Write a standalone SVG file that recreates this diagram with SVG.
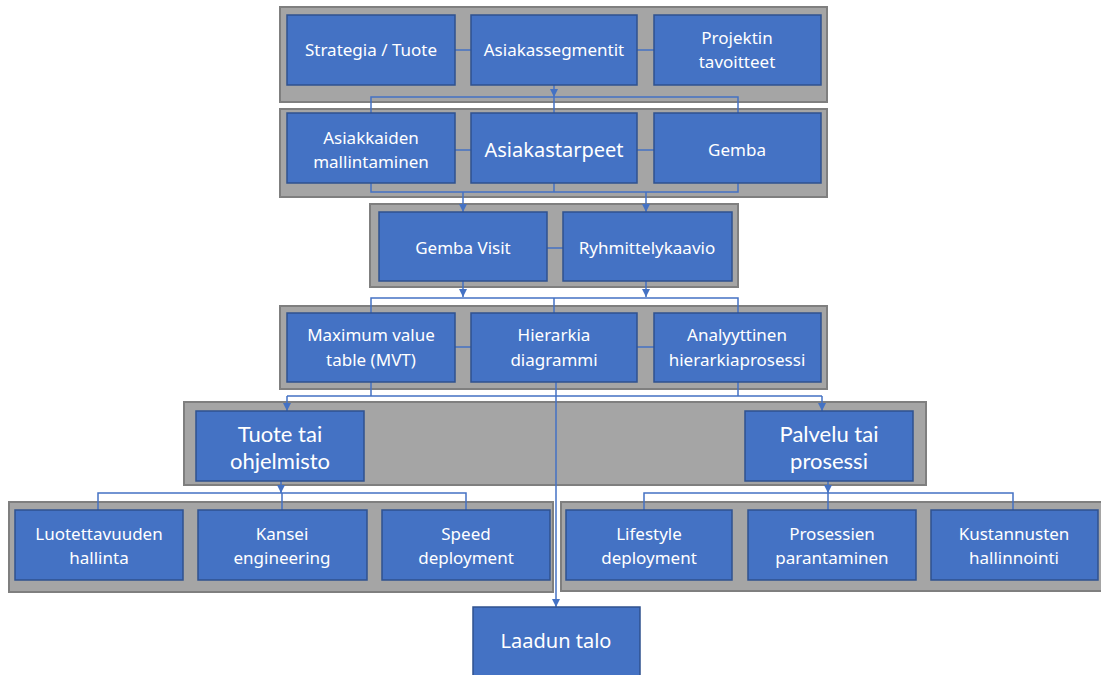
<svg xmlns="http://www.w3.org/2000/svg" width="1101" height="675" viewBox="0 0 1101 675">
  <style>
    .panel { fill: #a5a5a5; stroke: #7f7f7f; stroke-width: 2; }
    .box { fill: #4472c4; stroke: #2f528f; stroke-width: 1.5; }
    .lbl { fill: #ffffff; font-family: "Noto Sans", "Open Sans", sans-serif; font-size: 17px; text-anchor: middle; }
    .big { font-size: 20px; }
    .tall { font-family: Lato, "Liberation Sans", sans-serif; font-size: 22px; }
    .conn { fill: none; stroke: #4472c4; stroke-width: 1.5; }
  </style>
  <defs>
    <marker id="arrow" viewBox="0 0 8 8" refX="8" refY="4" markerWidth="8" markerHeight="8" markerUnits="userSpaceOnUse" orient="auto">
      <path d="M0,0 L8,4 L0,8 Z" fill="#4472c4"/>
    </marker>
  </defs>

  <rect width="1101" height="675" fill="#ffffff"/>

  <!-- background panels -->
  <g id="panels">
    <rect class="panel" x="280" y="7" width="547" height="95"/>
    <rect class="panel" x="280" y="109" width="547" height="88"/>
    <rect class="panel" x="370" y="204" width="368" height="83"/>
    <rect class="panel" x="280" y="306" width="547" height="83"/>
    <rect class="panel" x="184" y="402" width="742" height="83"/>
    <rect class="panel" x="9" y="502" width="544" height="90"/>
    <rect class="panel" x="561" y="502" width="541" height="89"/>
  </g>

  <!-- connectors -->
  <g id="connectors">
    <path class="conn" d="M455,50 H471 M637,50 H654"/>
    <path class="conn" d="M554,85 V97" marker-end="url(#arrow)"/>
    <path class="conn" d="M371,113 V97 H738 V113 M554,97 V113"/>

    <path class="conn" d="M455,150 H471 M637,150 H654"/>
    <path class="conn" d="M371,183 V192 H738 V183 M554,183 V192"/>
    <path class="conn" d="M463,192 V212" marker-end="url(#arrow)"/>
    <path class="conn" d="M646,192 V212" marker-end="url(#arrow)"/>

    <path class="conn" d="M547,248 H563"/>
    <path class="conn" d="M463,281 V297" marker-end="url(#arrow)"/>
    <path class="conn" d="M646,281 V297" marker-end="url(#arrow)"/>
    <path class="conn" d="M371,313 V298 H738 V313 M554,298 V313"/>

    <path class="conn" d="M455,347 H471 M637,347 H654"/>
    <path class="conn" d="M371,382 V396 M738,382 V396 M287,396 H822"/>
    <path class="conn" d="M287,396 V411" marker-end="url(#arrow)"/>
    <path class="conn" d="M822,396 V411" marker-end="url(#arrow)"/>
    <path class="conn" d="M556,382 V607" marker-end="url(#arrow)"/>

    <path class="conn" d="M281,481 V493" marker-end="url(#arrow)"/>
    <path class="conn" d="M98,510 V493 H466 V510 M282,493 V510"/>
    <path class="conn" d="M828,481 V493" marker-end="url(#arrow)"/>
    <path class="conn" d="M644,510 V493 H1013 V510 M828,493 V510"/>
  </g>

  <!-- row 1 -->
  <g id="strategia">
    <rect class="box" x="287" y="15" width="168" height="70"/>
    <text class="lbl" x="371" y="56">Strategia / Tuote</text>
  </g>
  <g id="asiakassegmentit">
    <rect class="box" x="471" y="15" width="166" height="70"/>
    <text class="lbl" x="554" y="56">Asiakassegmentit</text>
  </g>
  <g id="projektin-tavoitteet">
    <rect class="box" x="654" y="15" width="167" height="70"/>
    <text class="lbl" x="737" y="44">Projektin</text>
    <text class="lbl" x="737" y="68">tavoitteet</text>
  </g>

  <!-- row 2 -->
  <g id="asiakkaiden-mallintaminen">
    <rect class="box" x="287" y="113" width="168" height="70"/>
    <text class="lbl" x="371" y="144">Asiakkaiden</text>
    <text class="lbl" x="371" y="168">mallintaminen</text>
  </g>
  <g id="asiakastarpeet">
    <rect class="box" x="471" y="113" width="166" height="70"/>
    <text class="lbl big" x="554" y="157">Asiakastarpeet</text>
  </g>
  <g id="gemba">
    <rect class="box" x="654" y="113" width="167" height="70"/>
    <text class="lbl" x="737" y="156">Gemba</text>
  </g>

  <!-- row 3 -->
  <g id="gemba-visit">
    <rect class="box" x="379" y="212" width="168" height="69"/>
    <text class="lbl" x="463" y="254">Gemba Visit</text>
  </g>
  <g id="ryhmittelykaavio">
    <rect class="box" x="563" y="212" width="169" height="69"/>
    <text class="lbl" x="647" y="254">Ryhmittelykaavio</text>
  </g>

  <!-- row 4 -->
  <g id="mvt">
    <rect class="box" x="287" y="313" width="168" height="69"/>
    <text class="lbl" x="371" y="341">Maximum value</text>
    <text class="lbl" x="371" y="366">table (MVT)</text>
  </g>
  <g id="hierarkia-diagrammi">
    <rect class="box" x="471" y="313" width="166" height="69"/>
    <text class="lbl" x="554" y="341">Hierarkia</text>
    <text class="lbl" x="554" y="366">diagrammi</text>
  </g>
  <g id="ahp">
    <rect class="box" x="654" y="313" width="167" height="69"/>
    <text class="lbl" x="737" y="341">Analyyttinen</text>
    <text class="lbl" x="737" y="366">hierarkiaprosessi</text>
  </g>

  <!-- row 5 -->
  <g id="tuote-tai-ohjelmisto">
    <rect class="box" x="196" y="411" width="168" height="70"/>
    <text class="lbl tall" x="280" y="442">Tuote tai</text>
    <text class="lbl tall" x="280" y="469">ohjelmisto</text>
  </g>
  <g id="palvelu-tai-prosessi">
    <rect class="box" x="745" y="411" width="168" height="70"/>
    <text class="lbl tall" x="829" y="442">Palvelu tai</text>
    <text class="lbl tall" x="829" y="469">prosessi</text>
  </g>

  <!-- row 6, left -->
  <g id="luotettavuuden-hallinta">
    <rect class="box" x="15" y="510" width="168" height="70"/>
    <text class="lbl" x="99" y="540">Luotettavuuden</text>
    <text class="lbl" x="99" y="564">hallinta</text>
  </g>
  <g id="kansei-engineering">
    <rect class="box" x="198" y="510" width="169" height="70"/>
    <text class="lbl" x="282" y="540">Kansei</text>
    <text class="lbl" x="282" y="564">engineering</text>
  </g>
  <g id="speed-deployment">
    <rect class="box" x="382" y="510" width="168" height="70"/>
    <text class="lbl" x="466" y="540">Speed</text>
    <text class="lbl" x="466" y="564">deployment</text>
  </g>

  <!-- row 6, right -->
  <g id="lifestyle-deployment">
    <rect class="box" x="566" y="510" width="166" height="70"/>
    <text class="lbl" x="649" y="540">Lifestyle</text>
    <text class="lbl" x="649" y="564">deployment</text>
  </g>
  <g id="prosessien-parantaminen">
    <rect class="box" x="748" y="510" width="168" height="70"/>
    <text class="lbl" x="832" y="540">Prosessien</text>
    <text class="lbl" x="832" y="564">parantaminen</text>
  </g>
  <g id="kustannusten-hallinnointi">
    <rect class="box" x="931" y="510" width="167" height="70"/>
    <text class="lbl" x="1014" y="540">Kustannusten</text>
    <text class="lbl" x="1014" y="564">hallinnointi</text>
  </g>

  <!-- result -->
  <g id="laadun-talo">
    <rect class="box" x="473" y="607" width="167" height="75"/>
    <text class="lbl big" x="556" y="648">Laadun talo</text>
  </g>
</svg>
